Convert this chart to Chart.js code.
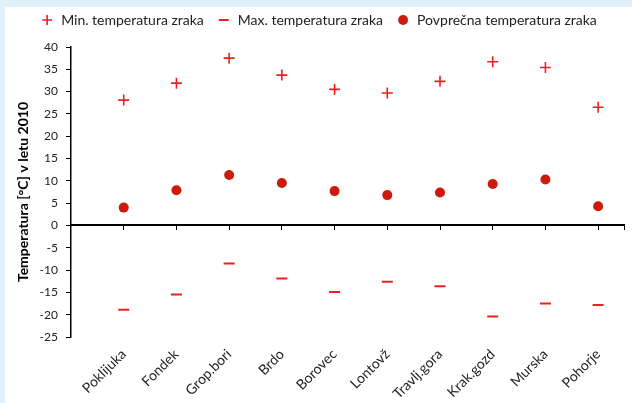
<!DOCTYPE html>
<html>
<head>
<meta charset="utf-8">
<script src="https://cdn.jsdelivr.net/npm/chart.js@4.4.1/dist/chart.umd.min.js"></script>
<style>
  html, body { margin: 0; padding: 0; }
  body { width: 632px; height: 403px; background: #dff1fa; position: relative; overflow: hidden; }
  #wrap { position: absolute; left: 5px; top: 7px; width: 627px; height: 396px; background: #fff; }
</style>
</head>
<body>
<div id="wrap"><canvas id="chart" width="627" height="396"></canvas></div>
<script>
// stations along the x axis
const stations = ["Poklijuka", "Fondek", "Grop.bori", "Brdo", "Borovec", "Lontovž", "Travlj.gora", "Krak.gozd", "Murska", "Pohorje"];

// values (°C)
const minTemp = [28.1, 31.9, 37.5, 33.7, 30.5, 29.7, 32.3, 36.7, 35.4, 26.5];
const maxTemp = [-18.9, -15.5, -8.5, -11.9, -14.9, -12.6, -13.6, -20.4, -17.5, -17.8];
const avgTemp = [4.0, 7.9, 11.3, 9.5, 7.7, 6.8, 7.4, 9.3, 10.3, 4.3];

const seriesNames = ["Min. temperatura zraka", "Max. temperatura zraka", "Povprečna temperatura zraka"];
const yTicks = { min: -25, max: 40, step: 5 };
const yTitle = "Temperatura [°C] v letu 2010";

const FONT = "Lato, 'Open Sans', sans-serif";

const toPoints = arr => arr.map((v, i) => ({ x: i + 1, y: v }));

// push the plot a little further below the legend
const legendGap = {
  id: "legendGap",
  afterInit(chart) {
    const fit = chart.legend.fit;
    chart.legend.fit = function () {
      fit.call(this);
      this.height += 10;
    };
  }
};

new Chart(document.getElementById("chart"), {
  type: "scatter",
  data: {
    datasets: [
      {
        label: seriesNames[0],
        data: toPoints(minTemp),
        pointStyle: "cross",
        pointRadius: 5.5,
        pointHoverRadius: 5.5,
        borderColor: "#f01e1e",
        backgroundColor: "#f01e1e",
        borderWidth: 1.6
      },
      {
        label: seriesNames[1],
        data: toPoints(maxTemp),
        pointStyle: "line",
        pointRadius: 5.5,
        pointHoverRadius: 5.5,
        borderColor: "#f01e1e",
        backgroundColor: "#f01e1e",
        borderWidth: 2
      },
      {
        label: seriesNames[2],
        data: toPoints(avgTemp),
        pointStyle: "circle",
        pointRadius: 5,
        pointHoverRadius: 5,
        borderColor: "#cc1a0c",
        backgroundColor: "#cc1a0c",
        borderWidth: 0
      }
    ]
  },
  plugins: [legendGap],
  options: {
    responsive: false,
    animation: false,
    layout: { padding: { top: -7, right: 0, left: 0, bottom: 0 } },
    plugins: {
      tooltip: { enabled: false },
      legend: {
        position: "top",
        labels: {
          usePointStyle: true,
          boxHeight: 7,
          padding: 13,
          color: "#222",
          font: { family: FONT, size: 14 }
        }
      }
    },
    scales: {
      x: {
        type: "linear",
        position: "bottom",
        min: 0,
        max: 10.5,
        afterFit: s => { s.height = 66; },
        afterBuildTicks: s => { s.ticks = stations.map((_, i) => ({ value: i + 1 })); },
        ticks: {
          autoSkip: false,
          minRotation: 45,
          maxRotation: 45,
          padding: 1,
          color: "#222",
          font: { family: FONT, size: 14 },
          callback: v => stations[v - 1] || ""
        },
        grid: { display: false },
        border: { display: false }
      },
      x0: {
        type: "linear",
        position: { y: 0 },
        min: 0,
        max: 10.5,
        afterBuildTicks: s => {
          s.ticks = stations.map((_, i) => ({ value: i + 1 })).concat([{ value: 10.5 }]);
        },
        ticks: { display: false },
        grid: { drawOnChartArea: false, drawTicks: true, tickLength: 4, color: "#000", lineWidth: 1 },
        border: { display: true, color: "#000", width: 2 }
      },
      y: {
        type: "linear",
        min: yTicks.min,
        max: yTicks.max,
        afterFit: s => { s.width = 66; },
        ticks: {
          stepSize: yTicks.step,
          padding: 8,
          color: "#222",
          font: { family: FONT, size: 12 }
        },
        title: {
          display: true,
          text: yTitle,
          color: "#000",
          padding: { top: 10, bottom: 0 },
          font: { family: FONT, size: 14, weight: "bold" }
        },
        grid: { drawOnChartArea: false, drawTicks: true, tickLength: 5, color: "#000", lineWidth: 1 },
        border: { display: true, color: "#000", width: 1.5 }
      }
    }
  }
});
</script>
</body>
</html>
